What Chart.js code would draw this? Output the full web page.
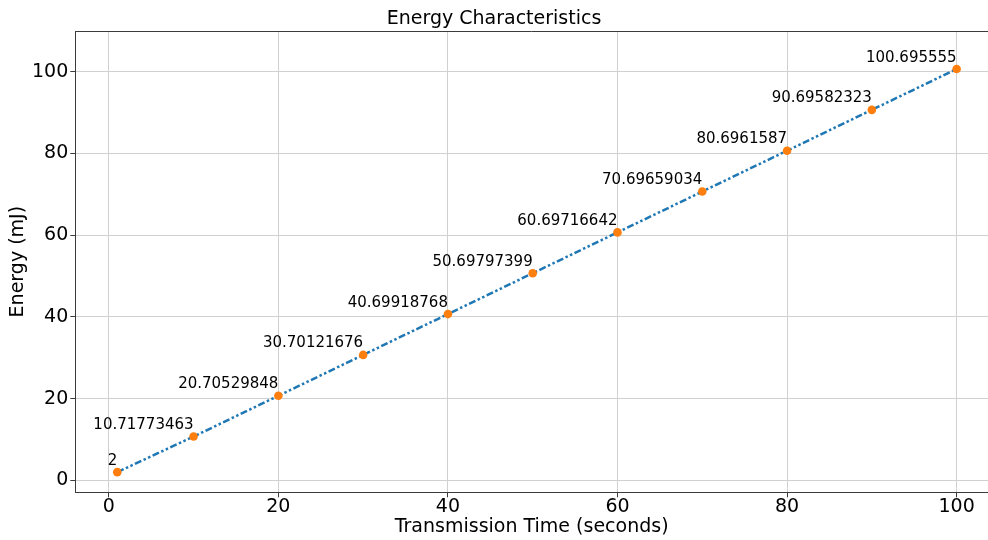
<!DOCTYPE html>
<html lang="en">
<head>
    <meta charset="UTF-8">
    <title>Energy Characteristics</title>
    <script src="https://cdn.jsdelivr.net/npm/chart.js"></script>
    <style>
        html, body {
            margin: 0;
            padding: 0;
            background: #fff;
            overflow: hidden;
        }
        #energyChart {
            display: block;
        }
    </style>
</head>
<body>
    <canvas id="energyChart" width="988" height="540"></canvas>

    <script>
        // transmission time (s) and measured energy (mJ)
        const times = [1, 10, 20, 30, 40, 50, 60, 70, 80, 90, 100];
        const energies = [2, 10.71773463, 20.70529848, 30.70121676, 40.69918768, 50.69797399,
                          60.69716642, 70.69659034, 80.6961587, 90.69582323, 100.695555];
        const xTicks = [0, 20, 40, 60, 80, 100];
        const yTicks = [0, 20, 40, 60, 80, 100];

        const FONT = "'DejaVu Sans', sans-serif";
        const SPINE = '#3c3c3c';
        const GRID = '#d0d0d0';

        Chart.defaults.font.family = FONT;
        Chart.defaults.color = '#000';

        // value text above each point, right-aligned on the marker
        const pointLabels = {
            id: 'pointLabels',
            afterDatasetsDraw(chart) {
                const ctx = chart.ctx;
                const meta = chart.getDatasetMeta(0);
                ctx.save();
                ctx.font = '15px ' + FONT;
                ctx.fillStyle = '#000';
                ctx.textAlign = 'right';
                ctx.textBaseline = 'alphabetic';
                meta.data.forEach((pt, i) => {
                    ctx.fillText(String(energies[i]), pt.x, pt.y - 7.5);
                });
                ctx.restore();
            }
        };

        // top spine of the axes box
        const topSpine = {
            id: 'topSpine',
            afterDraw(chart) {
                const { ctx, chartArea } = chart;
                ctx.save();
                ctx.strokeStyle = SPINE;
                ctx.lineWidth = 1;
                ctx.beginPath();
                const y = Math.round(chartArea.top) + 0.5;
                ctx.moveTo(chartArea.left, y);
                ctx.lineTo(chartArea.right, y);
                ctx.stroke();
                ctx.restore();
            }
        };

        new Chart(document.getElementById('energyChart'), {
            type: 'line',
            data: {
                datasets: [{
                    data: times.map((t, i) => ({ x: t, y: energies[i] })),
                    borderColor: '#1f77b4',
                    borderWidth: 2.5,
                    borderDash: [7, 2.5, 2.5, 2.5, 2.5, 2.5],
                    borderCapStyle: 'butt',
                    pointRadius: 4.3,
                    pointBackgroundColor: '#ff7f0e',
                    pointBorderWidth: 0,
                    tension: 0,
                    fill: false
                }]
            },
            options: {
                responsive: false,
                animation: false,
                layout: { padding: 0, autoPadding: false },
                plugins: {
                    legend: { display: false },
                    tooltip: { enabled: false },
                    title: {
                        display: true,
                        text: 'Energy Characteristics',
                        color: '#000',
                        font: { size: 19, weight: 'normal' },
                        padding: { top: 8, bottom: 0.2 }
                    }
                },
                scales: {
                    x: {
                        type: 'linear',
                        min: -3.95,
                        max: 103.7,
                        afterBuildTicks: scale => { scale.ticks = xTicks.map(v => ({ value: v })); },
                        afterFit: scale => { scale.height = 47.7; },
                        ticks: {
                            font: { size: 19 },
                            color: '#000',
                            padding: -2,
                            maxRotation: 0
                        },
                        grid: { color: GRID, lineWidth: 1, tickLength: 5, tickColor: SPINE },
                        border: { color: SPINE, width: 1 },
                        title: {
                            display: true,
                            text: 'Transmission Time (seconds)',
                            color: '#000',
                            font: { size: 19 },
                            padding: { top: 0, bottom: 1.8 }
                        }
                    },
                    y: {
                        type: 'linear',
                        min: -2.93,
                        max: 110,
                        afterBuildTicks: scale => { scale.ticks = yTicks.map(v => ({ value: v })); },
                        afterFit: scale => { scale.width = 75.3; },
                        ticks: {
                            font: { size: 19 },
                            color: '#000',
                            padding: 2
                        },
                        grid: { color: GRID, lineWidth: 1, tickLength: 5, tickColor: SPINE },
                        border: { color: SPINE, width: 1 },
                        title: {
                            display: true,
                            text: 'Energy (mJ)',
                            color: '#000',
                            font: { size: 19 },
                            padding: { top: 6.6, bottom: 0 }
                        }
                    }
                }
            },
            plugins: [pointLabels, topSpine]
        });
    </script>
</body>
</html>
